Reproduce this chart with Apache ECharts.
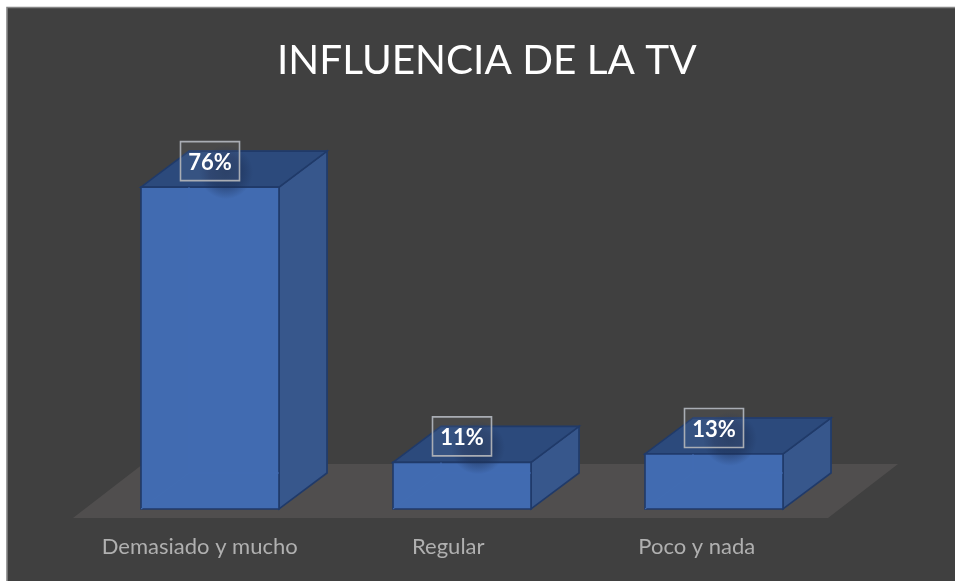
<!DOCTYPE html>
<html><head><meta charset="utf-8">
<style>html,body{margin:0;padding:0;background:#fff}#c{width:955px;height:581px}</style>
<script src="https://cdn.jsdelivr.net/npm/echarts@6/dist/echarts.min.js"></script>
</head><body><div id="c"></div>
<script>
const categories = ['Demasiado y mucho', 'Regular', 'Poco y nada'];
const values = [76, 11, 13];
const titleText = 'INFLUENCIA DE LA TV';

const DX = 48, DY = -36, BAR = 138;
const chart = echarts.init(document.getElementById('c'), null, {renderer: 'canvas'});

function pts(a) { return {points: a}; }
function renderBar(params, api) {
  const i = api.value(0), v = api.value(1);
  const c = api.coord([i, v]), b = api.coord([i, 0]);
  const l = c[0] - BAR / 2, r = c[0] + BAR / 2, t = c[1], y0 = b[1];
  const edge = {stroke: '#203a69', lineWidth: 1.6};
  const kids = [];
  if (params.dataIndex === 0) {
    const bb = params.coordSys;
    kids.push({type: 'polygon', silent: true,
      shape: pts([[bb.x - 11, y0 + 9], [bb.x + bb.width - 12, y0 + 9], [bb.x + bb.width + 58, y0 - 45], [bb.x + 59, y0 - 45]]),
      style: {fill: '#504e4e'}});
  }
  kids.push(
    {type: 'polygon', shape: pts([[l + DX, t + DY], [r + DX, t + DY], [r + DX, y0 + DY], [l + DX, y0 + DY]]), style: {fill: '#3c5f99', stroke: '#2c4a7f', lineWidth: 1}},
    {type: 'polygon', shape: pts([[r, t], [r + DX, t + DY], [r + DX, y0 + DY], [r, y0]]), style: Object.assign({fill: '#37578c'}, edge)},
    {type: 'polygon', shape: pts([[l, t], [l + DX, t + DY], [r + DX, t + DY], [r, t]]), style: Object.assign({fill: '#2c4a7c'}, edge)},
    {type: 'polygon', shape: pts([[l, t], [r, t], [r, y0], [l, y0]]), style: Object.assign({fill: '#416bb1'}, edge)},
    {type: 'line', shape: {x1: l + DX, y1: y0 + DY, x2: r, y2: y0 + DY}, style: {stroke: '#426db3', lineWidth: 1}},
    {type: 'line', shape: {x1: l + DX, y1: y0 + DY, x2: l + DX, y2: t}, style: {stroke: '#426db3', lineWidth: 1}},
    {type: 'line', shape: {x1: l + DX, y1: y0 + DY, x2: l, y2: y0}, style: {stroke: '#426db3', lineWidth: 1}}
  );
  // soft shadow under the label
  const cy = t - 26;
  kids.push({type: 'rect', silent: true,
    shape: {x: c[0] - 28, y: cy - 16, width: 88, height: 54},
    style: {fill: new echarts.graphic.RadialGradient(0.5, 0.5, 0.5, [
      {offset: 0, color: 'rgba(26,44,80,0.6)'},
      {offset: 0.6, color: 'rgba(26,44,80,0.4)'},
      {offset: 1, color: 'rgba(26,44,80,0)'}
    ])}});
  kids.push({type: 'rect',
    shape: {x: c[0] - 29.5, y: cy - 19.5, width: 59, height: 39},
    style: {fill: 'rgba(255,255,255,0.05)', stroke: '#a9adb4', lineWidth: 1.6}});
  kids.push({type: 'text',
    style: {x: c[0], y: cy + 1.5, text: v + '%', fill: '#ffffff', font: '700 22px Lato, "Open Sans", sans-serif', align: 'center', verticalAlign: 'middle'}});
  return {type: 'group', children: kids};
}

chart.setOption({
  animation: false,
  backgroundColor: '#ffffff',
  title: {text: titleText, left: 272, top: 35,
    textStyle: {color: '#ffffff', fontFamily: 'Lato, "Open Sans", sans-serif', fontWeight: 400, fontSize: 40.5}},
  grid: [
    {left: 84, width: 756, top: 60, height: 449},
    {left: 75.5, width: 745.5, top: 60, height: 449}
  ],
  graphic: [{type: 'rect', z: -10, silent: true, shape: {x: 7, y: 7.5, width: 980, height: 600},
    style: {fill: '#404040', stroke: '#858585', lineWidth: 1.6}}],
  xAxis: [
    {type: 'category', gridIndex: 0, data: categories, axisLine: {show: false}, axisTick: {show: false}, axisLabel: {show: false}},
    {type: 'category', gridIndex: 1, data: categories, axisLine: {show: false}, axisTick: {show: false},
      axisLabel: {color: '#b0b0b0', interval: 0, hideOverlap: false, fontFamily: 'Lato, "Open Sans", sans-serif', fontSize: 22, margin: 27}}
  ],
  yAxis: [
    {type: 'value', gridIndex: 0, min: 0, max: 106, show: false, splitLine: {show: false}},
    {type: 'value', gridIndex: 1, min: 0, max: 106, show: false, splitLine: {show: false}}
  ],
  series: [{type: 'custom', xAxisIndex: 0, yAxisIndex: 0, clip: false, renderItem: renderBar,
    encode: {x: 0, y: 1}, data: values.map((v, i) => [i, v])}]
});
</script></body></html>
